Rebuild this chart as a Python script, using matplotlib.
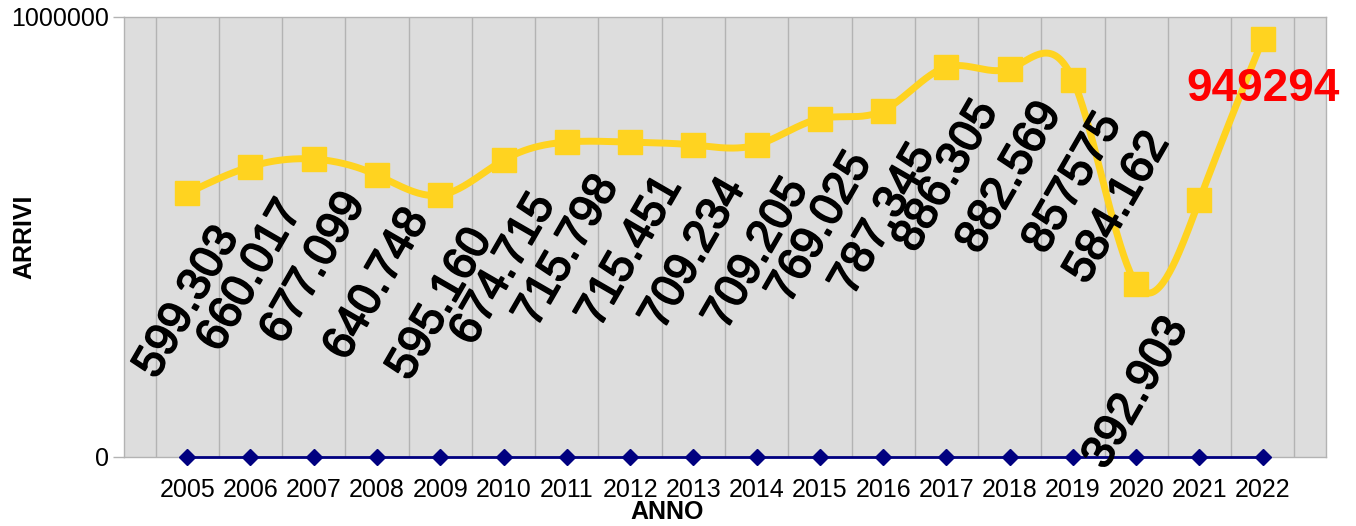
"""
arrivi.py - Andamento arrivi per anno (2005-2022)
Run: python plot.py
"""
import numpy as np
import matplotlib
matplotlib.use("Agg")
import matplotlib.pyplot as plt
import matplotlib.patheffects as pe

plt.rcParams['font.family'] = ['Liberation Sans', 'DejaVu Sans']

years = ['2005', '2006', '2007', '2008', '2009', '2010', '2011', '2012', '2013',
         '2014', '2015', '2016', '2017', '2018', '2019', '2020', '2021', '2022']
arrivi = [599303, 660017, 677099, 640748, 595160, 674715, 715798, 715451, 709234,
          709205, 769025, 787345, 886305, 882569, 857575, 392903, 584162, 949294]
labels = ['599.303', '660.017', '677.099', '640.748', '595.160', '674.715',
          '715.798', '715.451', '709.234', '709.205', '769.025', '787.345',
          '886.305', '882.569', '857575', '392.903', '584.162', '949294']
zero_series = [0] * len(years)

YELLOW = '#ffd320'
NAVY = '#000080'


def natural_spline(y, per_seg=40):
    # natural cubic spline on unit spacing, like the office "cubic spline" option
    y = np.asarray(y, dtype=float)
    n = len(y)
    A = np.zeros((n, n))
    b = np.zeros(n)
    A[0, 0] = A[-1, -1] = 1.0
    for i in range(1, n - 1):
        A[i, i - 1], A[i, i], A[i, i + 1] = 1.0, 4.0, 1.0
        b[i] = 6.0 * (y[i + 1] - 2 * y[i] + y[i - 1])
    M = np.linalg.solve(A, b)
    xs, ys = [], []
    for i in range(n - 1):
        t = np.linspace(0, 1, per_seg, endpoint=(i == n - 2))
        seg = ((1 - t) * y[i] + t * y[i + 1]
               + ((1 - t) ** 3 - (1 - t)) * M[i] / 6.0
               + (t ** 3 - t) * M[i + 1] / 6.0)
        xs.append(i + t)
        ys.append(seg)
    return np.concatenate(xs), np.concatenate(ys)


fig = plt.figure(figsize=(13.56, 5.26), dpi=100)
ax = fig.add_axes([0.0914, 0.1312, 0.8865, 0.8365])
ax.set_facecolor('#dddddd')

x = np.arange(len(years))
ax.set_xlim(-1, len(years))
ax.set_ylim(0, 1000000)

# vertical separators between categories
for gx in np.arange(-0.5, len(years), 1.0):
    ax.axvline(gx, color='#b3b3b3', lw=1, zorder=1)

sx, sy = natural_spline(arrivi)
ax.plot(sx, sy, color=YELLOW, lw=5, zorder=3, solid_capstyle='round')
ax.plot(x, arrivi, ls='none', marker='s', ms=17, color=YELLOW, zorder=4)

ax.plot(x, zero_series, color=NAVY, lw=2, marker='D', ms=8, zorder=4, clip_on=False)

thick = [pe.withStroke(linewidth=1.3, foreground='black')]
for i, (v, lab) in enumerate(zip(arrivi, labels)):
    if i == len(years) - 1:
        ax.annotate(lab, (i, v), xytext=(0, -20), textcoords='offset points',
                    ha='center', va='top', fontsize=33, fontweight='bold',
                    color='red', zorder=5)
        continue
    dx, dy = 0, -19
    if years[i] == '2021':
        dx, dy = -59, 54  # label moved by hand in the original
    ax.annotate(lab, (i, v), xytext=(dx, dy), textcoords='offset points',
                ha='center', va='top', rotation=60, fontsize=33,
                color='black', zorder=5, path_effects=thick)

ax.set_xticks(x)
ax.set_xticklabels(years, fontsize=18)
ax.tick_params(axis='x', length=0, pad=15)
ax.set_yticks([0, 1000000])
ax.set_yticklabels(['0', '1000000'], fontsize=18)
ax.tick_params(axis='y', length=8, width=1, color='#b3b3b3', pad=3)

for s in ax.spines.values():
    s.set_color('#b3b3b3')
    s.set_linewidth(1)

ax.set_xlabel('ANNO', fontsize=18, fontweight='bold')
ax.xaxis.set_label_coords(0.452, -0.098)
ax.set_ylabel('ARRIVI', fontsize=18, fontweight='bold')
ax.yaxis.set_label_coords(-0.073, 0.5)

fig.savefig('out.png', dpi=100)
